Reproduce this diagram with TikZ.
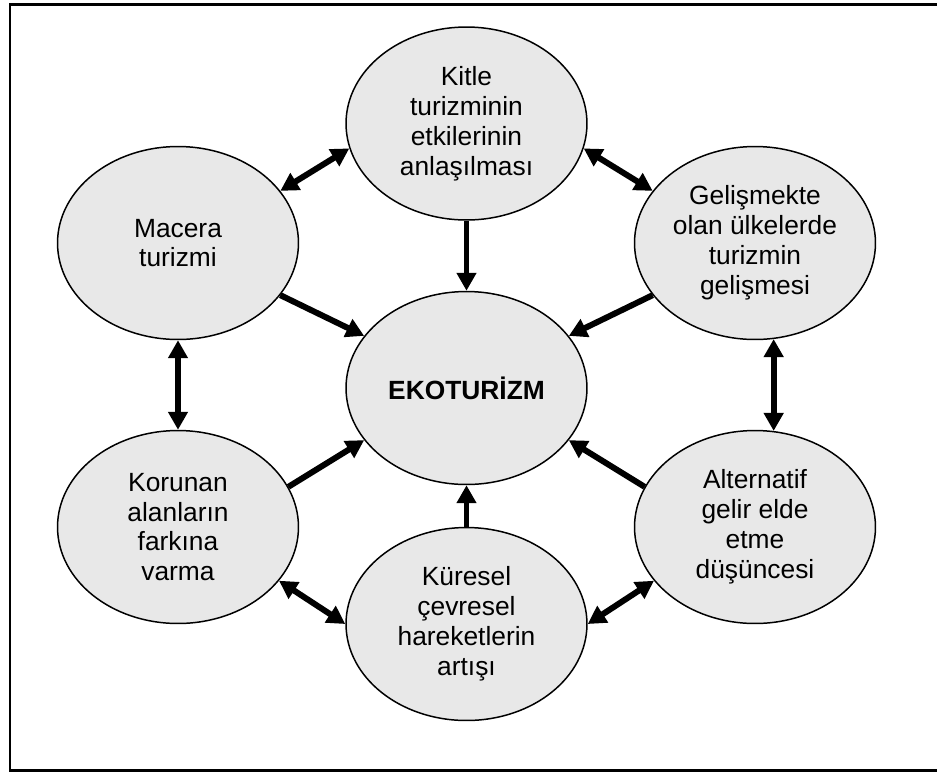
\documentclass[tikz,border=0pt]{standalone}
\usepackage{fontspec}
\setmainfont{Liberation Sans}
\usetikzlibrary{arrows.meta,shapes.geometric}

\definecolor{bubblegray}{RGB}{232,232,232}

\tikzset{
  bubble/.style={ellipse, draw, line width=0.85pt, fill=bubblegray,
    minimum width=4.82cm, minimum height=3.86cm, inner sep=0pt,
    align=center, font=\fontsize{15}{17}\selectfont},
  tip/.tip={Triangle[length=0.36cm,width=0.38cm]},
  link/.style={line width=3.4pt, -tip},
  dlink/.style={line width=3.4pt, tip-tip}
}

\begin{document}
\begin{tikzpicture}[x=0.02cm,y=-0.02cm]
\useasboundingbox (0,0) rectangle (937,772);

% Frame
\draw[line width=1.7pt] (937,4) -- (10,4) -- (10,770) -- (937,770);

% Ellipses
\node[bubble] (eko) at (466.5,388) {\textbf{EKOTURİZM}};
\node[bubble] (kitle) at (466.5,123.5) {Kitle\\turizminin\\etkilerinin\\anlaşılması};
\node[bubble] (macera) at (178,243) {Macera\\turizmi};
\node[bubble] (gelisme) at (755,243) {Gelişmekte\\olan ülkelerde\\turizmin\\gelişmesi};
\node[bubble] (korunan) at (178,527) {Korunan\\alanların\\farkına\\varma};
\node[bubble] (alternatif) at (755,527) {Alternatif\\gelir elde\\etme\\düşüncesi};
\node[bubble] (kuresel) at (466.5,624) {Küresel\\çevresel\\hareketlerin\\artışı};

% Arrows into the centre
\draw[link] (kitle.270) -- (eko.90);
\draw[link] (macera.-27) -- (eko.153);
\draw[link] (gelisme.207) -- (eko.27);
\draw[link] (korunan.20) -- (eko.207);
\draw[link] (alternatif.160) -- (eko.-27);
\draw[link] (kuresel.90) -- (eko.270);

% Arrows round the ring
\draw[dlink] (macera.27) -- (kitle.192);
\draw[dlink] (kitle.-12) -- (gelisme.153);
\draw[dlink] (gelisme.281) -- (alternatif.79);
\draw[dlink] (macera.270) -- (korunan.90);
\draw[dlink] (korunan.-28) -- (kuresel.180);
\draw[dlink] (kuresel.0) -- (alternatif.208);

\end{tikzpicture}
\end{document}
